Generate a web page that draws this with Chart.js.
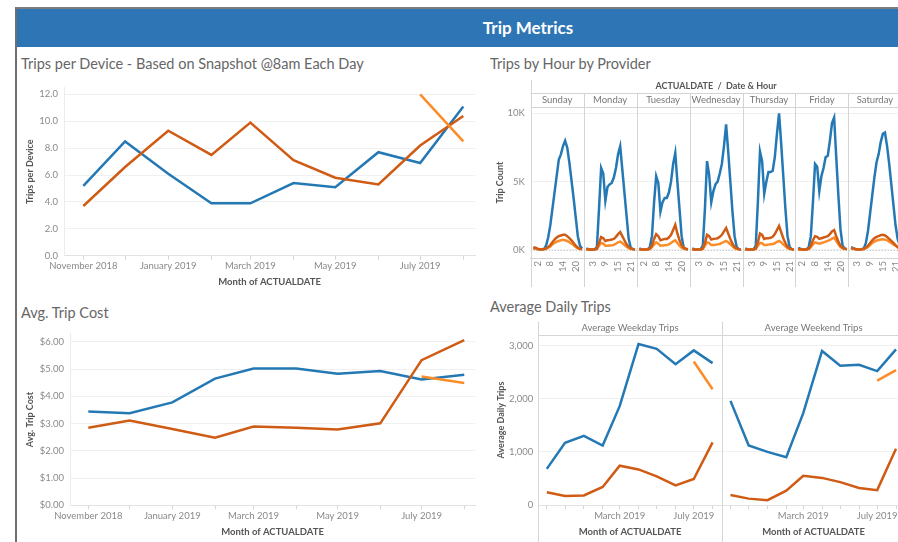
<!DOCTYPE html>
<html>
<head>
<meta charset="utf-8">
<title>Trip Metrics</title>
<script src="https://cdn.jsdelivr.net/npm/chart.js@4.4.1/dist/chart.umd.min.js"></script>
<style>
  html, body { margin: 0; padding: 0; background: #fff; overflow: hidden; }
  body { width: 898px; height: 542px; position: relative; font-family: Lato, 'Open Sans', sans-serif; }
  .frame { position: absolute; left: 15px; top: 7px; right: 0; bottom: 0; border-left: 2px solid #6e6e6e; border-top: 2px solid #7d7d7d; }
  .banner { position: absolute; left: 17px; top: 9px; width: 881px; height: 38px; background: #2e75b6; }
  .banner span { position: absolute; left: 411px; width: 200px; top: 0; line-height: 38px; text-align: center; color: #fff; font-weight: bold; font-size: 17px; }
  .ttl { position: absolute; font-size: 14.5px; color: #666; white-space: nowrap; line-height: 18px; }
  canvas { position: absolute; }
</style>
</head>
<body>
<div class="frame"></div>
<div class="banner"><span>Trip Metrics</span></div>

<div class="ttl" style="left:21px;top:55px">Trips per Device - Based on Snapshot @8am Each Day</div>
<div class="ttl" style="left:490px;top:55px">Trips by Hour by Provider</div>
<div class="ttl" style="left:21px;top:304px">Avg. Trip Cost</div>
<div class="ttl" style="left:490px;top:298px">Average Daily Trips</div>

<canvas id="devChart" width="461" height="216" style="left:17px;top:76px"></canvas>
<canvas id="hourChart" width="430" height="218" style="left:480px;top:72px"></canvas>
<canvas id="costChart" width="461" height="220" style="left:17px;top:322px"></canvas>
<canvas id="weekdayChart" width="242" height="226" style="left:480px;top:316px"></canvas>
<canvas id="weekendChart" width="190" height="226" style="left:722px;top:316px"></canvas>

<script>
// ── shared look ──
const FONT = "Lato, 'Open Sans', sans-serif";
const BLUE = '#2479b5';
const DARK = '#cf5b14';
const LIGHT = '#fb8c28';
const TICK_COLOR = '#8a8a8a';
const TITLE_COLOR = '#555';

// ── months (continuous date axis) ──
const MONTHS = ['2018-11', '2018-12', '2019-01', '2019-02', '2019-03', '2019-04', '2019-05', '2019-06', '2019-07', '2019-08'];
const MONTH_LABELS = ['November 2018', '', 'January 2019', '', 'March 2019', '', 'May 2019', '', 'July 2019', ''];
const MONTH_LABELS_NARROW = ['', '', '', '', 'March 2019', '', '', '', 'July 2019', ''];

// ── Trips per Device ──
const devBlue  = [5.2, 8.5, 6.1, 3.9, 3.9, 5.4, 5.1, 7.7, 6.9, 11.1];
const devDark  = [3.7, 6.6, 9.3, 7.5, 9.9, 7.1, 5.8, 5.3, 8.2, 10.4];
const devLight = [null, null, null, null, null, null, null, null, 12.0, 8.5];
const devTicks = [0, 2, 4, 6, 8, 10, 12];

// ── Avg. Trip Cost ──
const costBlue  = [3.44, 3.38, 3.78, 4.65, 5.02, 5.02, 4.83, 4.93, 4.62, 4.79];
const costDark  = [2.85, 3.11, 2.80, 2.48, 2.89, 2.85, 2.78, 3.01, 5.33, 6.06];
const costLight = [null, null, null, null, null, null, null, null, 4.73, 4.49];
const costTicks = [0, 1, 2, 3, 4, 5, 6];

// ── Average Daily Trips ──
const weekdayBlue  = [680, 1170, 1300, 1120, 1860, 3030, 2940, 2650, 2910, 2670];
const weekdayDark  = [240, 170, 180, 340, 740, 670, 540, 370, 490, 1180];
const weekdayLight = [null, null, null, null, null, null, null, null, 2700, 2180];
const weekendBlue  = [1960, 1120, 1000, 900, 1730, 2900, 2620, 2640, 2520, 2930];
const weekendDark  = [190, 120, 90, 270, 550, 510, 430, 320, 280, 1060];
const weekendLight = [null, null, null, null, null, null, null, null, 2340, 2540];
const dailyTicks = [0, 1000, 2000, 3000];

// ── Trips by Hour (thousands), one row per day, hours 0..23 ──
const DAYS = ['Sunday', 'Monday', 'Tuesday', 'Wednesday', 'Thursday', 'Friday', 'Saturday'];
const HOUR_TICKS = [[2, 8, 14, 20], [3, 9, 15, 21], [2, 8, 14, 20], [3, 9, 15, 21], [3, 9, 15, 21], [2, 8, 14, 20], [3, 9, 15, 21]];
const hourTicksY = [0, 5, 10];
const hourlyBlue = [
  [0.15, 0.08, 0.05, 0.03, 0.03, 0.05, 0.3, 0.9, 1.8, 3.0, 4.2, 5.4, 6.6, 7.0, 7.6, 8.0, 7.5, 6.4, 5.1, 3.8, 2.4, 1.0, 0.3, 0.1],
  [0.1, 0.05, 0.02, 0.02, 0.05, 0.2, 3.0, 6.0, 5.6, 3.6, 4.6, 4.8, 4.9, 5.3, 6.0, 7.0, 7.6, 5.9, 4.2, 2.5, 0.8, 0.15, 0.05, 0.03],
  [0.1, 0.05, 0.02, 0.02, 0.05, 0.2, 1.0, 3.5, 5.4, 4.9, 2.8, 3.5, 3.8, 3.8, 4.2, 5.0, 6.3, 7.1, 5.0, 3.0, 1.0, 0.15, 0.05, 0.03],
  [0.1, 0.05, 0.02, 0.02, 0.05, 0.3, 3.0, 6.5, 5.5, 3.5, 4.3, 4.8, 5.0, 5.6, 6.3, 7.6, 9.2, 7.2, 5.0, 2.8, 1.0, 0.2, 0.05, 0.03],
  [0.1, 0.05, 0.02, 0.02, 0.05, 0.3, 3.5, 7.2, 6.5, 4.1, 5.0, 5.7, 5.7, 5.8, 6.8, 8.5, 10.0, 7.8, 5.4, 3.0, 1.0, 0.2, 0.05, 0.03],
  [0.15, 0.08, 0.03, 0.02, 0.05, 0.2, 1.0, 3.5, 6.3, 6.1, 4.3, 5.4, 6.0, 6.8, 6.9, 8.0, 9.3, 9.7, 6.8, 4.0, 1.5, 0.3, 0.1, 0.05],
  [0.2, 0.12, 0.06, 0.03, 0.03, 0.05, 0.1, 0.5, 1.4, 2.7, 4.0, 5.3, 6.4, 7.0, 7.9, 8.5, 8.6, 7.6, 6.3, 4.8, 3.3, 1.8, 0.8, 0.3]
];
const hourlyDark = [
  [0.2, 0.15, 0.08, 0.05, 0.04, 0.05, 0.1, 0.2, 0.35, 0.55, 0.75, 0.9, 1.0, 1.05, 1.1, 1.1, 1.0, 0.85, 0.7, 0.5, 0.3, 0.15, 0.08, 0.05],
  [0.05, 0.03, 0.02, 0.02, 0.03, 0.1, 0.5, 0.93, 0.85, 0.65, 0.7, 0.72, 0.75, 0.8, 0.95, 1.15, 1.3, 1.0, 0.7, 0.4, 0.2, 0.1, 0.05, 0.03],
  [0.05, 0.03, 0.02, 0.02, 0.03, 0.1, 0.3, 0.8, 1.15, 1.0, 0.7, 0.75, 0.8, 0.8, 0.9, 1.1, 1.45, 1.83, 1.2, 0.7, 0.35, 0.15, 0.08, 0.05],
  [0.05, 0.03, 0.02, 0.02, 0.03, 0.1, 0.5, 1.1, 1.0, 0.75, 0.8, 0.82, 0.85, 0.95, 1.1, 1.35, 1.6, 1.2, 0.8, 0.45, 0.2, 0.1, 0.05, 0.03],
  [0.05, 0.03, 0.02, 0.02, 0.03, 0.1, 0.55, 1.2, 1.1, 0.8, 0.85, 0.85, 0.88, 0.95, 1.15, 1.45, 1.75, 1.3, 0.85, 0.5, 0.22, 0.1, 0.05, 0.03],
  [0.06, 0.04, 0.02, 0.02, 0.03, 0.1, 0.3, 0.7, 1.0, 0.95, 0.8, 0.85, 0.9, 0.95, 1.0, 1.15, 1.35, 1.45, 1.0, 0.6, 0.3, 0.15, 0.08, 0.05],
  [0.15, 0.1, 0.06, 0.04, 0.03, 0.04, 0.08, 0.15, 0.3, 0.5, 0.7, 0.85, 0.95, 1.0, 1.08, 1.1, 1.05, 0.95, 0.8, 0.65, 0.5, 0.35, 0.2, 0.12]
];
const hourlyLight = [
  [0.12, 0.08, 0.05, 0.03, 0.03, 0.04, 0.08, 0.15, 0.25, 0.4, 0.5, 0.6, 0.65, 0.7, 0.73, 0.7, 0.65, 0.55, 0.45, 0.35, 0.2, 0.1, 0.06, 0.04],
  [0.04, 0.02, 0.02, 0.02, 0.02, 0.06, 0.3, 0.5, 0.45, 0.3, 0.3, 0.32, 0.33, 0.36, 0.45, 0.55, 0.6, 0.5, 0.35, 0.22, 0.12, 0.06, 0.04, 0.03],
  [0.04, 0.02, 0.02, 0.02, 0.02, 0.05, 0.2, 0.4, 0.55, 0.45, 0.3, 0.32, 0.34, 0.35, 0.4, 0.5, 0.62, 0.7, 0.5, 0.3, 0.15, 0.08, 0.05, 0.03],
  [0.04, 0.02, 0.02, 0.02, 0.02, 0.06, 0.3, 0.55, 0.5, 0.35, 0.35, 0.37, 0.4, 0.43, 0.5, 0.58, 0.65, 0.55, 0.4, 0.25, 0.12, 0.06, 0.04, 0.03],
  [0.04, 0.02, 0.02, 0.02, 0.02, 0.06, 0.3, 0.5, 0.48, 0.35, 0.36, 0.38, 0.4, 0.42, 0.48, 0.58, 0.65, 0.55, 0.4, 0.25, 0.12, 0.06, 0.04, 0.03],
  [0.05, 0.03, 0.02, 0.02, 0.02, 0.05, 0.2, 0.4, 0.55, 0.5, 0.45, 0.5, 0.55, 0.6, 0.65, 0.72, 0.82, 0.9, 0.65, 0.4, 0.2, 0.1, 0.06, 0.04],
  [0.1, 0.07, 0.04, 0.03, 0.02, 0.03, 0.06, 0.12, 0.2, 0.35, 0.5, 0.6, 0.68, 0.72, 0.75, 0.78, 0.75, 0.7, 0.6, 0.5, 0.4, 0.3, 0.18, 0.1]
];

// ── helpers ──
const DAY0 = Date.UTC(2018, 10, 1);
const monthX = MONTHS.map(m => {
  const [y, mo] = m.split('-').map(Number);
  return (Date.UTC(y, mo - 1, 1) - DAY0) / 86400000;
});

function series(vals) {
  return vals.map((v, i) => ({ x: monthX[i], y: v })).filter(p => p.y != null);
}

// each day panel is 25 units wide on the x scale, hour h sits at 1.25 + h
const DAY_SPAN = 25;
const HOUR_OFFSET = 1.25;
function hourlySeries(days) {
  const pts = [];
  days.forEach((vals, d) => {
    vals.forEach((v, h) => pts.push({ x: d * DAY_SPAN + HOUR_OFFSET + h, y: v }));
    pts.push({ x: (d + 1) * DAY_SPAN, y: null });
  });
  return pts;
}

function line(data, color) {
  return { data, borderColor: color, borderWidth: 2.5, pointRadius: 0, tension: 0, fill: false, spanGaps: false };
}

function tickFont(size) {
  return { size: size || 9.5, family: FONT };
}

function monthAxis(min, max, labels, height, titlePadBottom) {
  return {
    type: 'linear', min, max,
    afterBuildTicks: s => { s.ticks = monthX.map(v => ({ value: v })); },
    afterFit: s => { s.height = height; },
    grid: { drawOnChartArea: false, drawTicks: true, tickLength: 4, tickColor: '#d6d6d6' },
    border: { color: '#e2e2e2' },
    ticks: {
      autoSkip: false, maxRotation: 0, minRotation: 0, padding: 1,
      color: TICK_COLOR, font: tickFont(),
      callback: (v, i) => labels[i]
    },
    title: {
      display: true, text: 'Month of ACTUALDATE', color: TITLE_COLOR,
      font: { size: 9.5, weight: 'bold', family: FONT },
      padding: { top: 0, bottom: titlePadBottom }
    }
  };
}

function valueAxis(min, max, ticks, width, fmt, title, titlePadTop, tickPad) {
  return {
    min, max,
    afterBuildTicks: s => { s.ticks = ticks.map(v => ({ value: v })); },
    afterFit: s => { s.width = width; },
    grid: { color: '#f0f0f0', drawTicks: false },
    border: { display: !!title, color: '#ececec' },
    ticks: { display: !!title, padding: tickPad || 6, color: TICK_COLOR, font: tickFont(), callback: v => fmt(v) },
    title: {
      display: !!title, text: title || '', color: TITLE_COLOR,
      font: { size: 9, weight: 'bold', family: FONT },
      padding: { top: titlePadTop || 0, bottom: 0 }
    }
  };
}

const baseOptions = {
  responsive: false,
  animation: false,
  events: [],
  plugins: { legend: { display: false }, tooltip: { enabled: false } }
};

// ── Trips per Device ──
new Chart(document.getElementById('devChart'), {
  type: 'line',
  data: { datasets: [line(series(devLight), LIGHT), line(series(devDark), DARK), line(series(devBlue), BLUE)] },
  options: {
    ...baseOptions,
    layout: { padding: { top: 4.7, right: 3, left: 0, bottom: 0 } },
    scales: {
      x: monthAxis(-13.9, 281.4, MONTH_LABELS, 36.3, 4.6),
      y: valueAxis(0, 12.5, devTicks, 47, v => v.toFixed(1), 'Trips per Device', 7.6)
    }
  }
});

// ── Avg. Trip Cost ──
new Chart(document.getElementById('costChart'), {
  type: 'line',
  data: { datasets: [line(series(costLight), LIGHT), line(series(costDark), DARK), line(series(costBlue), BLUE)] },
  options: {
    ...baseOptions,
    layout: { padding: { top: 9, right: 3, left: 0, bottom: 0 } },
    scales: {
      x: monthAxis(-13.3, 280.8, MONTH_LABELS, 36.7, 4),
      y: valueAxis(0, 6.3, costTicks, 53, v => '$' + v.toFixed(2), 'Avg. Trip Cost', 7.6)
    }
  }
});

// ── Trips by Hour by Provider ──
const hourFacets = {
  id: 'hourFacets',
  beforeDatasetsDraw(chart) {
    const { ctx, chartArea: a, scales: { y } } = chart;
    const zy = Math.round(y.getPixelForValue(0)) + 0.5;
    ctx.save();
    ctx.strokeStyle = '#b5b5b5';
    ctx.lineWidth = 1;
    ctx.setLineDash([1, 2]);
    ctx.beginPath();
    ctx.moveTo(a.left, zy);
    ctx.lineTo(a.right, zy);
    ctx.stroke();
    ctx.restore();
  },
  afterDraw(chart) {
    const { ctx, chartArea: a, scales: { x } } = chart;
    const rowTop = Math.round(a.top - 14.6) + 0.5;
    const top = Math.round(a.top) + 0.5;
    ctx.save();
    ctx.strokeStyle = '#d4d4d4';
    ctx.lineWidth = 1;
    ctx.beginPath();
    ctx.moveTo(a.left, rowTop); ctx.lineTo(chart.width, rowTop);
    ctx.moveTo(a.left, top); ctx.lineTo(chart.width, top);
    DAYS.forEach((d, i) => {
      const px = Math.round(x.getPixelForValue(i * DAY_SPAN)) + 0.5;
      ctx.moveTo(px, i === 0 ? a.top - 27.3 : rowTop);
      ctx.lineTo(px, chart.height - 3);
    });
    ctx.stroke();

    ctx.textAlign = 'center';
    ctx.textBaseline = 'middle';
    ctx.fillStyle = '#777';
    ctx.font = `9.5px ${FONT}`;
    DAYS.forEach((d, i) => {
      ctx.fillText(d, x.getPixelForValue(i * DAY_SPAN + DAY_SPAN / 2), a.top - 7.3);
    });
    ctx.fillStyle = '#555';
    ctx.font = `bold 9px ${FONT}`;
    ctx.fillText('ACTUALDATE  /  Date & Hour', (x.getPixelForValue(0) + x.getPixelForValue(DAYS.length * DAY_SPAN)) / 2, a.top - 21.3);
    ctx.restore();
  }
};

new Chart(document.getElementById('hourChart'), {
  type: 'line',
  data: {
    datasets: [
      line(hourlySeries(hourlyDark), DARK),
      line(hourlySeries(hourlyLight), LIGHT),
      line(hourlySeries(hourlyBlue), BLUE)
    ]
  },
  options: {
    ...baseOptions,
    layout: { padding: { top: 35.3, right: 2.9, left: 0, bottom: 0 } },
    scales: {
      x: {
        type: 'linear', min: 0, max: DAYS.length * DAY_SPAN,
        afterBuildTicks: s => {
          s.ticks = [];
          HOUR_TICKS.forEach((hs, d) => hs.forEach(h => s.ticks.push({ value: d * DAY_SPAN + HOUR_OFFSET + h })));
        },
        afterFit: s => { s.height = 32; },
        grid: { drawOnChartArea: false, drawTicks: false },
        border: { color: '#d4d4d4' },
        ticks: {
          autoSkip: false, minRotation: 90, maxRotation: 90, padding: 3,
          color: TICK_COLOR, font: tickFont(),
          callback: v => String(Math.round((v - HOUR_OFFSET) % DAY_SPAN))
        }
      },
      y: {
        ...valueAxis(-0.6, 10.45, hourTicksY, 50.7, v => v + 'K', 'Trip Count', 14.6),
        border: { display: false }
      }
    }
  },
  plugins: [hourFacets]
});

// ── Average Daily Trips (two panels) ──
function panelHeader(text) {
  return {
    id: 'panelHeader',
    afterDraw(chart) {
      const { ctx, chartArea: a } = chart;
      const left = Math.round(a.left) + 0.5;
      const top = Math.round(a.top) + 0.5;
      ctx.save();
      ctx.strokeStyle = '#d6d6d6';
      ctx.lineWidth = 1;
      ctx.beginPath();
      ctx.moveTo(left, a.top - 13.3);
      ctx.lineTo(left, chart.height);
      ctx.moveTo(a.left, top);
      ctx.lineTo(chart.width, top);
      ctx.stroke();
      ctx.fillStyle = '#777';
      ctx.font = `9.5px ${FONT}`;
      ctx.textAlign = 'center';
      ctx.textBaseline = 'middle';
      ctx.fillText(text, (a.left + a.right) / 2, a.top - 6.7);
      ctx.restore();
    }
  };
}

new Chart(document.getElementById('weekdayChart'), {
  type: 'line',
  data: { datasets: [line(series(weekdayLight), LIGHT), line(series(weekdayDark), DARK), line(series(weekdayBlue), BLUE)] },
  options: {
    ...baseOptions,
    layout: { padding: { top: 19, right: 0.3, left: 0, bottom: 0 } },
    scales: {
      x: monthAxis(-14, 288, MONTH_LABELS_NARROW, 37, 4.6),
      y: {
        ...valueAxis(0, 3200, dailyTicks, 58.3, v => v.toLocaleString('en-US'), 'Average Daily Trips', 15.3, 5),
        border: { display: false }
      }
    }
  },
  plugins: [panelHeader('Average Weekday Trips')]
});

new Chart(document.getElementById('weekendChart'), {
  type: 'line',
  data: { datasets: [line(series(weekendLight), LIGHT), line(series(weekendDark), DARK), line(series(weekendBlue), BLUE)] },
  options: {
    ...baseOptions,
    layout: { padding: { top: 19, right: 6.9, left: 0, bottom: 0 } },
    scales: {
      x: monthAxis(-14, 288, MONTH_LABELS_NARROW, 37, 4.6),
      y: {
        ...valueAxis(0, 3200, dailyTicks, 0, v => v, null),
        border: { display: false }
      }
    }
  },
  plugins: [panelHeader('Average Weekend Trips')]
});
</script>
</body>
</html>
